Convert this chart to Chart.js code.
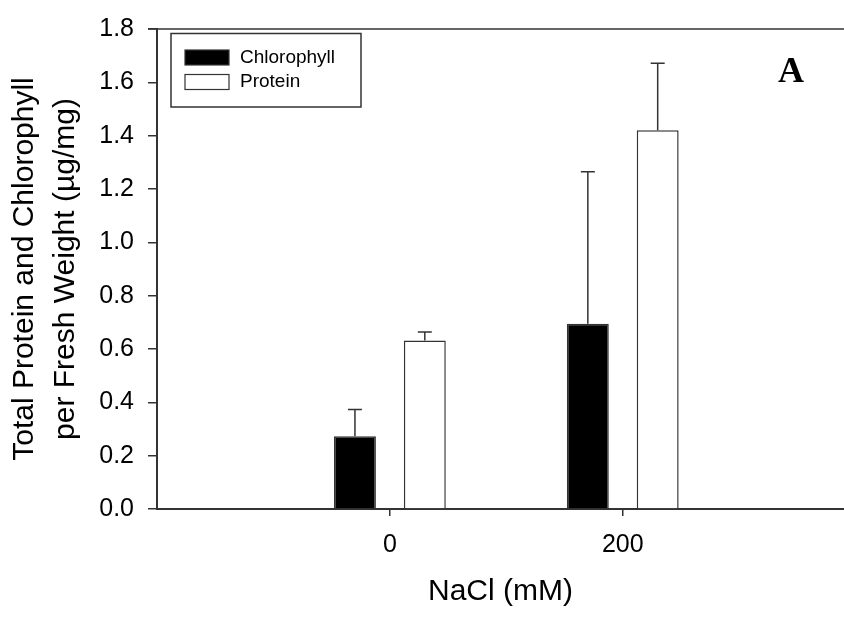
<!DOCTYPE html>
<html>
<head>
<meta charset="utf-8">
<script src="https://cdn.jsdelivr.net/npm/chart.js@4/dist/chart.umd.min.js"></script>
<style>
  html, body { margin: 0; padding: 0; background: #fff; overflow: hidden; }
  canvas { display: block; }
</style>
</head>
<body>
<canvas id="chart" width="844" height="618"></canvas>
<script>
// NaCl treatments (mM) and their axis labels
const nacl = [0, 200];
const naclLabels = ['0', '200'];

// Means (µg/mg fresh weight) and upper error bars
const chlorophyll = [0.273, 0.695];
const chlorophyllErr = [0.100, 0.570];
const protein = [0.632, 1.420];
const proteinErr = [0.032, 0.252];

const yTicks = [0, 0.2, 0.4, 0.6, 0.8, 1.0, 1.2, 1.4, 1.6, 1.8];

const FONT = '"Liberation Sans", Arial, sans-serif';
const INK = '#333333';

const points = (vals) => vals.map((v, i) => ({ x: nacl[i], y: v }));

// Upward whiskers with caps above each bar
const errorBars = {
  id: 'errorBars',
  afterDatasetsDraw(chart) {
    const ctx = chart.ctx;
    const yScale = chart.scales.y;
    ctx.save();
    ctx.strokeStyle = INK;
    ctx.lineWidth = 1.5;
    chart.data.datasets.forEach((ds, di) => {
      const meta = chart.getDatasetMeta(di);
      meta.data.forEach((bar, i) => {
        const top = yScale.getPixelForValue(ds.data[i].y + ds.errors[i]);
        ctx.beginPath();
        ctx.moveTo(bar.x, bar.y);
        ctx.lineTo(bar.x, top);
        ctx.moveTo(bar.x - 7, top);
        ctx.lineTo(bar.x + 7, top);
        ctx.stroke();
      });
    });
    ctx.restore();
  }
};

// Top frame line, boxed legend and panel letter
const decorations = {
  id: 'decorations',
  afterDraw(chart) {
    const ctx = chart.ctx;
    const area = chart.chartArea;
    ctx.save();
    ctx.strokeStyle = INK;
    ctx.lineWidth = 1.5;
    ctx.beginPath();
    ctx.moveTo(area.left - 9, area.top);
    ctx.lineTo(chart.width, area.top);
    ctx.stroke();

    // legend box
    ctx.strokeRect(171, 33.5, 190, 73.5);
    const rows = [57.5, 82];
    chart.data.datasets.forEach((ds, i) => {
      const cy = rows[i];
      ctx.fillStyle = ds.backgroundColor;
      ctx.fillRect(185, cy - 7.5, 44, 15);
      ctx.strokeStyle = INK;
      ctx.lineWidth = 1.2;
      ctx.strokeRect(185, cy - 7.5, 44, 15);
      ctx.fillStyle = '#000';
      ctx.font = '19px ' + FONT;
      ctx.textAlign = 'left';
      ctx.textBaseline = 'middle';
      ctx.fillText(ds.label, 240, cy);
    });

    ctx.fillStyle = '#000';
    ctx.font = 'bold 36px "Liberation Serif", "Times New Roman", serif';
    ctx.textAlign = 'center';
    ctx.textBaseline = 'alphabetic';
    ctx.fillText('A', 791, 82);
    ctx.restore();
  }
};

new Chart(document.getElementById('chart'), {
  type: 'bar',
  data: {
    datasets: [
      {
        label: 'Chlorophyll',
        data: points(chlorophyll),
        errors: chlorophyllErr,
        backgroundColor: '#000000',
        borderColor: INK,
        borderWidth: 1.5
      },
      {
        label: 'Protein',
        data: points(protein),
        errors: proteinErr,
        backgroundColor: '#ffffff',
        borderColor: INK,
        borderWidth: 1.5
      }
    ]
  },
  options: {
    responsive: false,
    animation: false,
    devicePixelRatio: 1,
    categoryPercentage: 0.6,
    barPercentage: 0.6,
    layout: { padding: { top: 21, right: 0, bottom: 0, left: 0 } },
    plugins: {
      legend: { display: false },
      tooltip: { enabled: false }
    },
    scales: {
      x: {
        type: 'linear',
        offset: false,
        min: -200,
        max: 390,
        afterBuildTicks(scale) {
          scale.ticks = nacl.map(v => ({ value: v }));
        },
        afterFit(scale) { scale.height = 109; },
        ticks: {
          callback: (v) => naclLabels[nacl.indexOf(v)],
          font: { family: FONT, size: 25 },
          color: '#000',
          padding: 14,
          maxRotation: 0,
          autoSkip: false
        },
        grid: {
          offset: false,
          drawOnChartArea: false,
          drawTicks: true,
          tickLength: 7,
          color: INK,
          lineWidth: 1.5
        },
        border: { display: true, color: INK, width: 2 },
        title: {
          display: true,
          text: 'NaCl (mM)',
          font: { family: FONT, size: 30, lineHeight: 1.2 },
          color: '#000',
          padding: { top: 0, bottom: 8 }
        }
      },
      y: {
        min: 0,
        max: 1.8,
        afterBuildTicks(scale) {
          scale.ticks = yTicks.map(v => ({ value: v }));
        },
        afterFit(scale) { scale.width = 157; },
        ticks: {
          callback: (v) => v.toFixed(1),
          font: { family: FONT, size: 25 },
          color: '#000',
          padding: 14
        },
        grid: {
          drawOnChartArea: false,
          drawTicks: true,
          tickLength: 9,
          color: INK,
          lineWidth: 1.5
        },
        border: { display: true, color: INK, width: 2 },
        title: {
          display: true,
          text: ['Total Protein and Chlorophyll', 'per Fresh Weight (\u00b5g/mg)'],
          font: { family: FONT, size: 30, lineHeight: 1.367 },
          color: '#000',
          padding: { top: 4, bottom: 0 }
        }
      }
    }
  },
  plugins: [errorBars, decorations]
});
</script>
</body>
</html>
